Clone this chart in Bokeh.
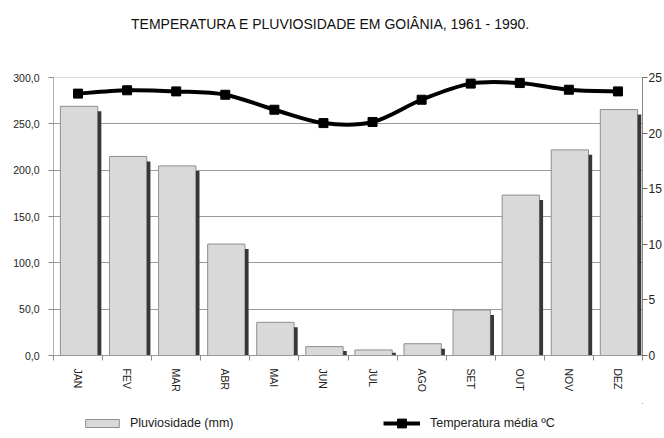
from bokeh.plotting import figure
from bokeh.layouts import column
from bokeh.models import Range1d, LinearAxis, FixedTicker, Legend, LegendItem, Label
from bokeh.embed import file_html
from bokeh.resources import INLINE

# ---- data ----
months = ["JAN", "FEV", "MAR", "ABR", "MAI", "JUN", "JUL", "AGO", "SET", "OUT", "NOV", "DEZ"]
rain = [268.9, 214.8, 204.6, 120.3, 35.8, 9.6, 6.0, 12.7, 49.1, 173.1, 221.9, 265.4]
temp = [23.55, 23.85, 23.75, 23.45, 22.1, 20.9, 21.0, 23.0, 24.45, 24.5, 23.9, 23.75]
rain_ticks = [0, 50, 100, 150, 200, 250, 300]
rain_tick_labels = ["0,0", "50,0", "100,0", "150,0", "200,0", "250,0", "300,0"]
temp_ticks = [0, 5, 10, 15, 20, 25]
title_text = "TEMPERATURA E PLUVIOSIDADE EM GOIÂNIA, 1961 - 1990."
rain_label = "Pluviosidade (mm)"
temp_label = "Temperatura média ºC"

SANS = "Liberation Sans"
W = 664
H0, H1, H2 = 60, 343, 35
BL, BR, BT, BB = 53, 22, 17, 48   # main plot borders (the column aligns the strips' frames to these)

# ---------------- title strip ----------------
p0 = figure(width=W, height=H0, output_backend="svg", toolbar_location=None,
            x_range=Range1d(0, 1), y_range=Range1d(0, 1),
            x_axis_location=None, y_axis_location=None, min_border=0)
p0.grid.visible = False
p0.outline_line_color = None
p0.add_layout(Label(x=330 - BL, y=H0 - 23.5, x_units="screen", y_units="screen",
                    text=title_text, text_align="center", text_baseline="middle",
                    text_font=SANS, text_font_size="14px", text_color="#111111"))

# ---------------- main chart ----------------
p = figure(width=W, height=H1, output_backend="svg", toolbar_location=None,
           x_range=Range1d(0, 12), y_range=Range1d(0, 300),
           min_border_left=BL, min_border_right=BR, min_border_top=BT, min_border_bottom=BB)
p.background_fill_color = "white"
p.border_fill_color = "white"
p.outline_line_color = "#d9d9d9"

n = len(months)
xc = [i + 0.5 for i in range(n)]

frame_w = W - BL - 27
frame_h = H1 - BT - BB
px_x = 12 / frame_w
px_y = 300 / frame_h

bar_w = 37 * px_x
bar_x = [x + 1 * px_x for x in xc]
sh_w = 3.6 * px_x
sh_x = [x + bar_w / 2 + sh_w / 2 for x in bar_x]
sh_top = [r - min(5 * px_y, r * 0.5) for r in rain]

p.xgrid.visible = False
p.ygrid.ticker = FixedTicker(ticks=rain_ticks[1:-1])
p.ygrid.grid_line_color = "#9a9a9a"
p.ygrid.grid_line_width = 1

bar_style = dict(fill_color="#d9d9d9", line_color="#8f8f8f", line_width=1)
p.vbar(x=bar_x, top=rain, width=bar_w, bottom=0, **bar_style)
p.vbar(x=sh_x, top=sh_top, width=sh_w, bottom=0, fill_color="#3a3636", line_color=None)

p.extra_y_ranges = {"temp": Range1d(0, 25)}

# smooth (Catmull-Rom) curve through the data points, drawn as Bezier segments
def ctrl(xs, ys):
    out = {k: [] for k in ("x0", "y0", "x1", "y1", "cx0", "cy0", "cx1", "cy1")}
    m = len(xs)
    for i in range(m - 1):
        ip = max(i - 1, 0)
        i2 = min(i + 2, m - 1)
        out["x0"].append(xs[i]); out["y0"].append(ys[i])
        out["x1"].append(xs[i + 1]); out["y1"].append(ys[i + 1])
        out["cx0"].append(xs[i] + (xs[i + 1] - xs[ip]) / 6)
        out["cy0"].append(ys[i] + (ys[i + 1] - ys[ip]) / 6)
        out["cx1"].append(xs[i + 1] - (xs[i2] - xs[i]) / 6)
        out["cy1"].append(ys[i + 1] - (ys[i2] - ys[i]) / 6)
    return out

c = ctrl(xc, temp)
p.bezier(line_color="black", line_width=4, line_cap="round", y_range_name="temp", **c)
p.scatter(x=xc, y=temp, marker="square", size=9, color="black", y_range_name="temp")

ya = p.yaxis[0]
ya.ticker = FixedTicker(ticks=rain_ticks)
ya.major_label_overrides = {t: l for t, l in zip(rain_ticks, rain_tick_labels)}
ya.minor_tick_line_color = None
ya.major_tick_in = 0
ya.major_tick_out = 5
ya.major_label_standoff = 9
ya.axis_line_color = "#b0b0b0"
ya.major_tick_line_color = "#8a8a8a"
ya.major_label_text_font = SANS
ya.major_label_text_font_size = "10.5px"
ya.major_label_text_color = "#222222"

ra = LinearAxis(y_range_name="temp", ticker=FixedTicker(ticks=temp_ticks))
ra.minor_tick_line_color = None
ra.major_tick_in = 0
ra.major_tick_out = 5
ra.major_label_standoff = 1
ra.axis_line_color = "#8a8a8a"
ra.major_tick_line_color = "#6a6a6a"
ra.major_label_text_font = SANS
ra.major_label_text_font_size = "12px"
ra.major_label_text_color = "#222222"
p.add_layout(ra, "right")

xa = p.xaxis[0]
xa.ticker = FixedTicker(ticks=xc, minor_ticks=list(range(n + 1)))
xa.major_label_overrides = {x: m for x, m in zip(xc, months)}
xa.major_tick_in = 0
xa.major_tick_out = 0
xa.minor_tick_in = 0
xa.minor_tick_out = 5
xa.minor_tick_line_color = "#8a8a8a"
xa.axis_line_color = "#9a9a9a"
xa.major_label_orientation = "vertical"
xa.major_label_standoff = 8
xa.major_label_text_font = SANS
xa.major_label_text_font_size = "10.5px"
xa.major_label_text_color = "#222222"

# ---------------- legend strip ----------------
# key renderers hold the real series but sit outside this strip's visible ranges
p2 = figure(width=W, height=H2, output_backend="svg", toolbar_location=None,
            x_range=Range1d(-2, -1), y_range=Range1d(-2, -1),
            x_axis_location=None, y_axis_location=None, min_border=0)
p2.grid.visible = False
p2.outline_line_color = None
key_bar = p2.vbar(x=xc, top=rain, width=0.5, bottom=0, **bar_style)
key_line = p2.line(x=xc, y=temp, line_color="black", line_width=4)
key_mark = p2.scatter(x=xc, y=temp, marker="square", size=9, color="black")

def style(leg):
    leg.border_line_color = None
    leg.background_fill_alpha = 0
    leg.padding = 0
    leg.margin = 0
    leg.label_text_font = SANS
    leg.label_text_font_size = "12.5px"
    leg.label_text_color = "#222222"

leg1 = Legend(items=[LegendItem(label=rain_label, renderers=[key_bar])],
              location=(81 - BL, 8), glyph_width=42, glyph_height=10,
              label_height=10, label_standoff=7)
style(leg1)
leg2 = Legend(items=[LegendItem(label=temp_label, renderers=[key_line, key_mark])],
              location=(383 - BL, 4), glyph_width=37, glyph_height=22,
              label_height=22, label_standoff=10)
style(leg2)
p2.add_layout(leg1)
p2.add_layout(leg2)

layout = column(p0, p, p2, spacing=0)
open("out.html", "w").write(file_html(layout, INLINE))
